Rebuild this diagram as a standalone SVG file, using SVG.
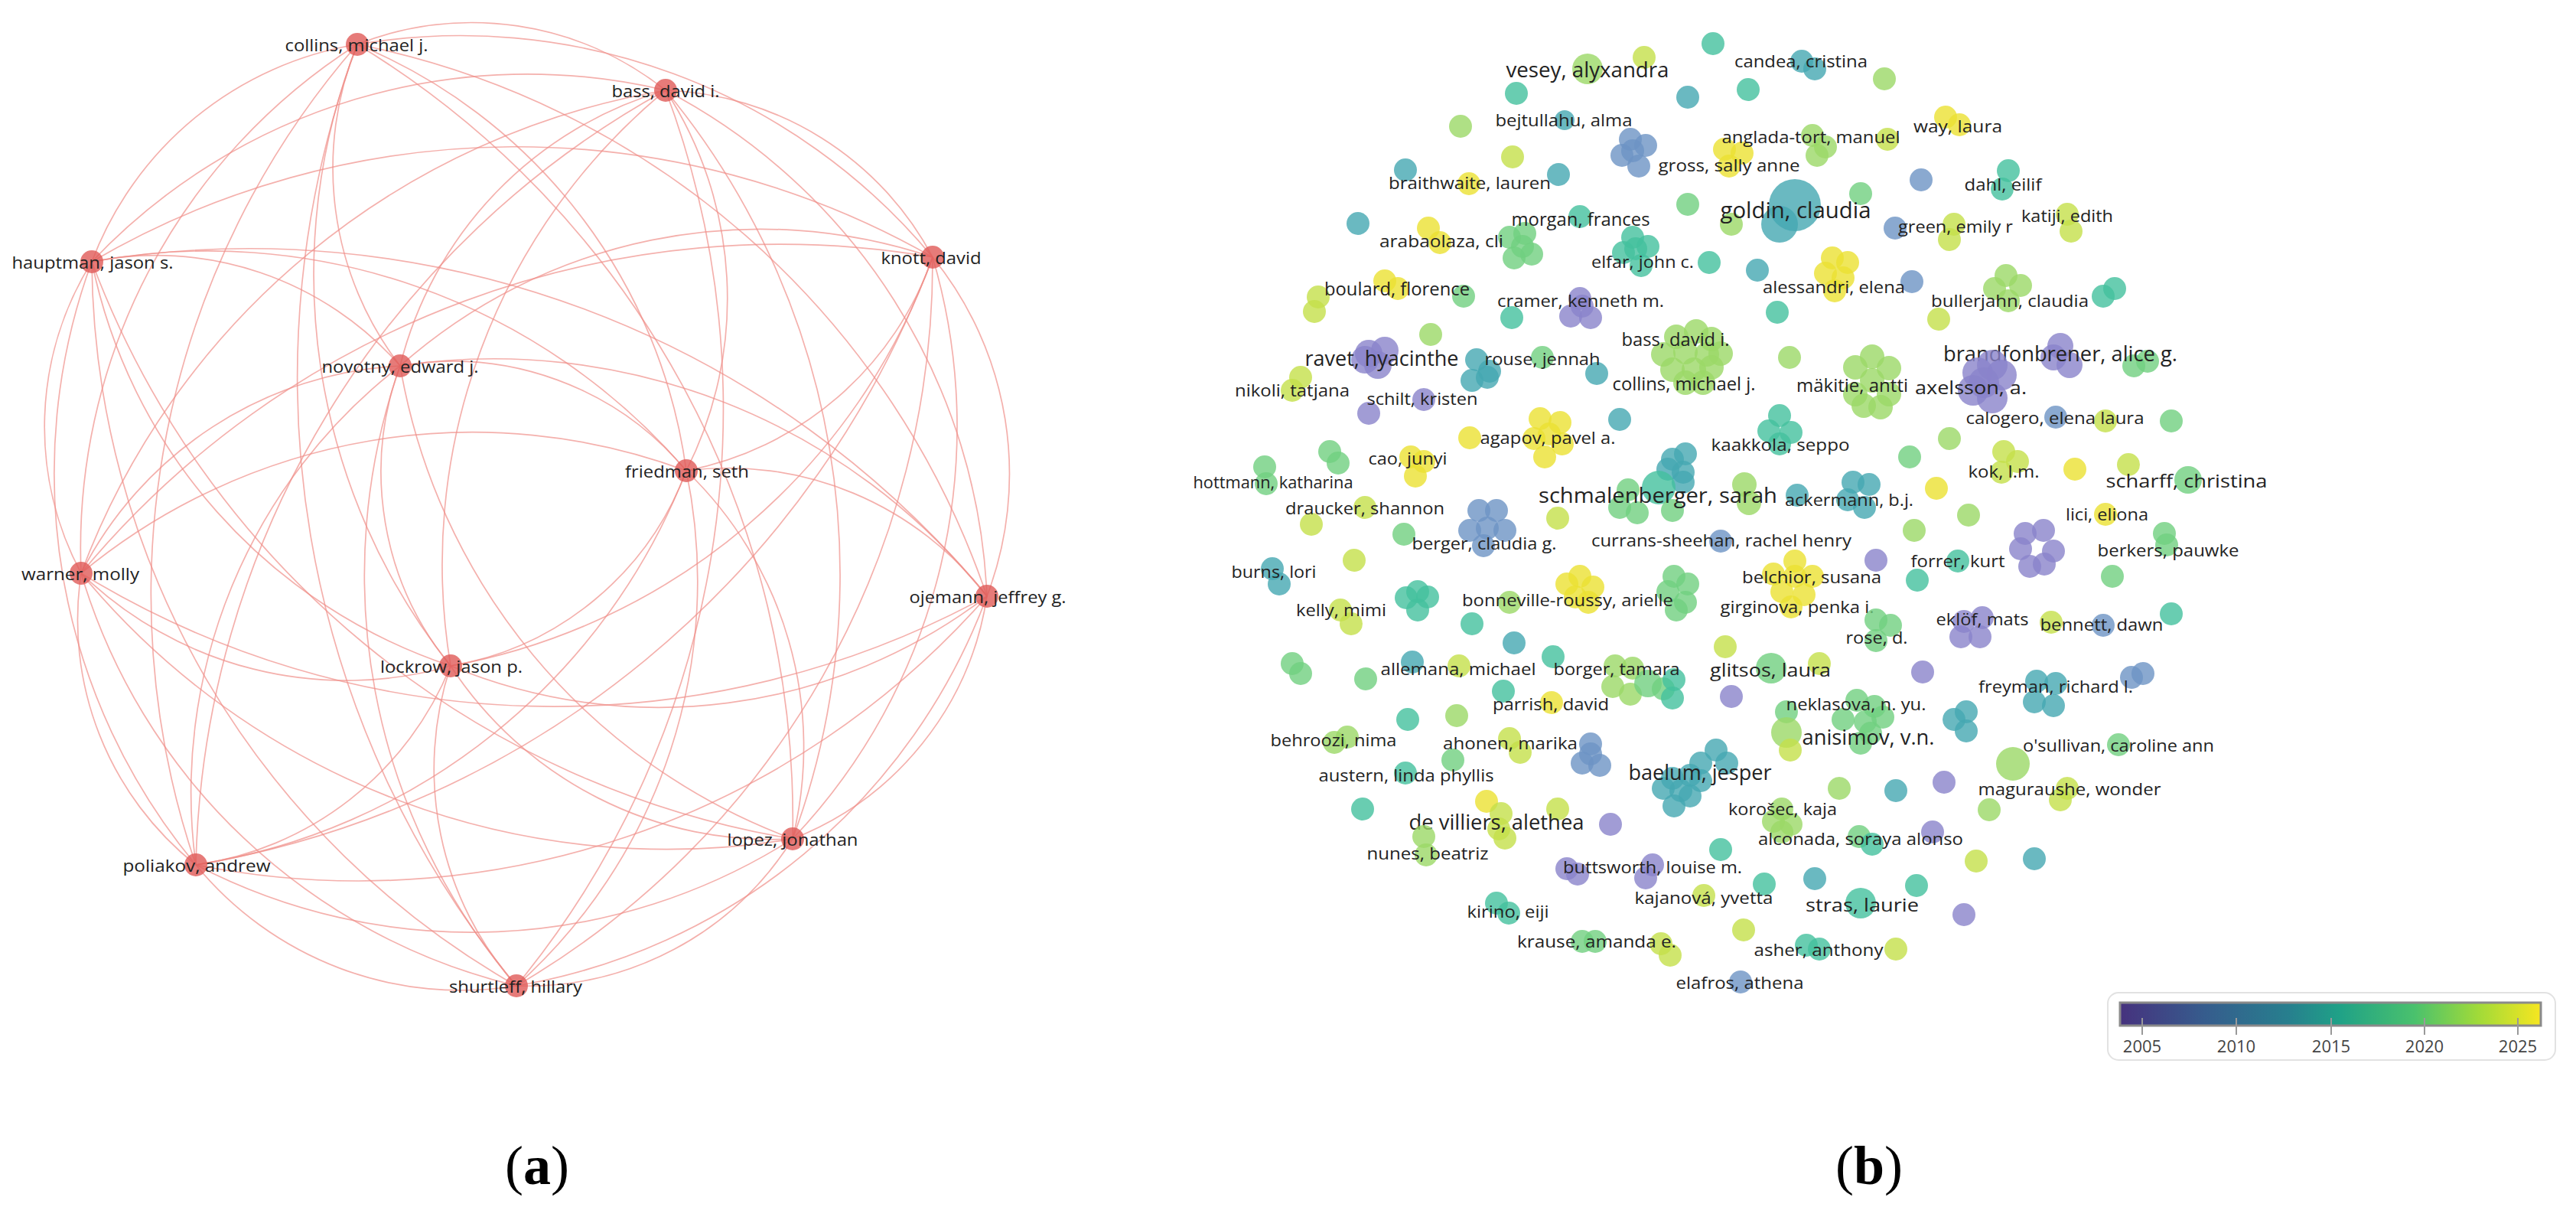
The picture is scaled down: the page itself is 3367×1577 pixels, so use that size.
<svg xmlns="http://www.w3.org/2000/svg" width="3367" height="1577" viewBox="0 0 3367 1577">
<style>
.e{fill:none;stroke:#ef8f89;stroke-opacity:0.7;stroke-width:1.7}
.na{fill:#e05a57}
.la{font-family:"Open Sans","Liberation Sans",sans-serif;font-size:22px;fill:#222;text-anchor:middle;dominant-baseline:central}
.lb{font-family:"Open Sans","Liberation Sans",sans-serif;font-size:21px;fill:#222;text-anchor:middle;dominant-baseline:central}
.m{font-size:24px}.L{font-size:27px}.X{font-size:29px}
circle{fill-opacity:0.8}
.c05{fill:#8a83cb}.c08{fill:#6d93c4}.c11{fill:#45a8b2}.c14{fill:#44c19e}.c17{fill:#70cf80}.c20{fill:#9bd866}.c22{fill:#c4e04a}.c24{fill:#ebe132}
.cap{font-family:"Liberation Serif",serif;font-size:72px;fill:#000;text-anchor:middle}
.leg{font-family:"Open Sans","Liberation Sans",sans-serif;font-size:22px;fill:#444;text-anchor:middle;dominant-baseline:central}
</style>
<defs>
<linearGradient id="viridis" x1="0" y1="0" x2="1" y2="0">
<stop offset="0" stop-color="#46327e"/><stop offset="0.2" stop-color="#365c8d"/><stop offset="0.4" stop-color="#277f8e"/><stop offset="0.52" stop-color="#1fa187"/><stop offset="0.7" stop-color="#4ac16d"/><stop offset="0.85" stop-color="#a0da39"/><stop offset="1" stop-color="#f6e620"/>
</linearGradient>
</defs>
<rect width="3367" height="1577" fill="#fff"/>
<g id="panel-a">
<g id="edges-a">
<path class="e" d="M870 118A411 411 0 0 1 1219 336"/>
<path class="e" d="M870 118A498 498 0 0 1 897 615"/>
<path class="e" d="M870 118A783 783 0 0 1 1290 779"/>
<path class="e" d="M870 118A992 992 0 0 1 1036 1096"/>
<path class="e" d="M870 118A1186 1186 0 0 1 675 1288"/>
<path class="e" d="M870 118A803 803 0 0 0 589 870"/>
<path class="e" d="M870 118A1184 1184 0 0 0 256 1130"/>
<path class="e" d="M870 118A991 991 0 0 0 106 749"/>
<path class="e" d="M870 118A783 783 0 0 0 120 342"/>
<path class="e" d="M870 118A500 500 0 0 0 523 478"/>
<path class="e" d="M870 118A407 407 0 0 0 467 58"/>
<path class="e" d="M1219 336A426 426 0 0 1 897 615"/>
<path class="e" d="M1219 336A449 449 0 0 1 1290 779"/>
<path class="e" d="M1219 336A782 782 0 0 1 1036 1096"/>
<path class="e" d="M1219 336A1096 1096 0 0 1 675 1288"/>
<path class="e" d="M1219 336A826 826 0 0 1 589 870"/>
<path class="e" d="M1219 336A1248 1248 0 0 1 256 1130"/>
<path class="e" d="M1219 336A1187 1187 0 0 0 106 749"/>
<path class="e" d="M1219 336A1099 1099 0 0 0 120 342"/>
<path class="e" d="M1219 336A710 710 0 0 0 523 478"/>
<path class="e" d="M1219 336A802 802 0 0 0 467 58"/>
<path class="e" d="M897 615A426 426 0 0 1 1290 779"/>
<path class="e" d="M897 615A501 501 0 0 1 1036 1096"/>
<path class="e" d="M897 615A709 709 0 0 1 675 1288"/>
<path class="e" d="M897 615A400 400 0 0 1 589 870"/>
<path class="e" d="M897 615A822 822 0 0 1 256 1130"/>
<path class="e" d="M897 615A802 802 0 0 0 106 749"/>
<path class="e" d="M897 615A824 824 0 0 0 120 342"/>
<path class="e" d="M897 615A398 398 0 0 0 523 478"/>
<path class="e" d="M897 615A704 704 0 0 0 467 58"/>
<path class="e" d="M1290 779A406 406 0 0 1 1036 1096"/>
<path class="e" d="M1290 779A798 798 0 0 1 675 1288"/>
<path class="e" d="M1290 779A707 707 0 0 1 589 870"/>
<path class="e" d="M1290 779A1092 1092 0 0 1 256 1130"/>
<path class="e" d="M1290 779A1184 1184 0 0 1 106 749"/>
<path class="e" d="M1290 779A1249 1249 0 0 0 120 342"/>
<path class="e" d="M1290 779A824 824 0 0 0 523 478"/>
<path class="e" d="M1290 779A1094 1094 0 0 0 467 58"/>
<path class="e" d="M1036 1096A409 409 0 0 1 675 1288"/>
<path class="e" d="M1036 1096A501 501 0 0 1 589 870"/>
<path class="e" d="M1036 1096A781 781 0 0 1 256 1130"/>
<path class="e" d="M1036 1096A993 993 0 0 1 106 749"/>
<path class="e" d="M1036 1096A1186 1186 0 0 1 120 342"/>
<path class="e" d="M1036 1096A803 803 0 0 1 523 478"/>
<path class="e" d="M1036 1096A1184 1184 0 0 0 467 58"/>
<path class="e" d="M675 1288A427 427 0 0 1 589 870"/>
<path class="e" d="M675 1288A448 448 0 0 1 256 1130"/>
<path class="e" d="M675 1288A784 784 0 0 1 106 749"/>
<path class="e" d="M675 1288A1097 1097 0 0 1 120 342"/>
<path class="e" d="M675 1288A824 824 0 0 1 523 478"/>
<path class="e" d="M675 1288A1247 1247 0 0 1 467 58"/>
<path class="e" d="M589 870A422 422 0 0 1 256 1130"/>
<path class="e" d="M589 870A498 498 0 0 1 106 749"/>
<path class="e" d="M589 870A706 706 0 0 1 120 342"/>
<path class="e" d="M589 870A398 398 0 0 1 523 478"/>
<path class="e" d="M589 870A821 821 0 0 1 467 58"/>
<path class="e" d="M256 1130A409 409 0 0 1 106 749"/>
<path class="e" d="M256 1130A800 800 0 0 1 120 342"/>
<path class="e" d="M256 1130A705 705 0 0 1 523 478"/>
<path class="e" d="M256 1130A1093 1093 0 0 1 467 58"/>
<path class="e" d="M106 749A407 407 0 0 1 120 342"/>
<path class="e" d="M106 749A497 497 0 0 1 523 478"/>
<path class="e" d="M106 749A780 780 0 0 1 467 58"/>
<path class="e" d="M120 342A425 425 0 0 1 523 478"/>
<path class="e" d="M120 342A448 448 0 0 1 467 58"/>
<path class="e" d="M523 478A424 424 0 0 1 467 58"/>
</g>
<g id="a-collins"><circle class="na" cx="467" cy="58" r="15"/><text class="la" x="466" y="58" textLength="187" lengthAdjust="spacingAndGlyphs">collins, michael j.</text></g>
<g id="a-bass"><circle class="na" cx="870" cy="118" r="15"/><text class="la" x="870" y="118" textLength="141" lengthAdjust="spacingAndGlyphs">bass, david i.</text></g>
<g id="a-hauptman"><circle class="na" cx="120" cy="342" r="15"/><text class="la" x="121" y="342" textLength="211" lengthAdjust="spacingAndGlyphs">hauptman, jason s.</text></g>
<g id="a-knott"><circle class="na" cx="1219" cy="336" r="15"/><text class="la" x="1217" y="336" textLength="131" lengthAdjust="spacingAndGlyphs">knott, david</text></g>
<g id="a-novotny"><circle class="na" cx="523" cy="478" r="15"/><text class="la" x="523" y="478" textLength="205" lengthAdjust="spacingAndGlyphs">novotny, edward j.</text></g>
<g id="a-friedman"><circle class="na" cx="897" cy="615" r="15"/><text class="la" x="898" y="615" textLength="162" lengthAdjust="spacingAndGlyphs">friedman, seth</text></g>
<g id="a-warner"><circle class="na" cx="106" cy="749" r="15"/><text class="la" x="105" y="749" textLength="154" lengthAdjust="spacingAndGlyphs">warner, molly</text></g>
<g id="a-ojemann"><circle class="na" cx="1290" cy="779" r="15"/><text class="la" x="1291" y="779" textLength="205" lengthAdjust="spacingAndGlyphs">ojemann, jeffrey g.</text></g>
<g id="a-lockrow"><circle class="na" cx="589" cy="870" r="15"/><text class="la" x="590" y="870" textLength="186" lengthAdjust="spacingAndGlyphs">lockrow, jason p.</text></g>
<g id="a-lopez"><circle class="na" cx="1036" cy="1096" r="15"/><text class="la" x="1036" y="1096" textLength="171" lengthAdjust="spacingAndGlyphs">lopez, jonathan</text></g>
<g id="a-poliakov"><circle class="na" cx="256" cy="1130" r="15"/><text class="la" x="257" y="1130" textLength="193" lengthAdjust="spacingAndGlyphs">poliakov, andrew</text></g>
<g id="a-shurtleff"><circle class="na" cx="675" cy="1288" r="15"/><text class="la" x="674" y="1288" textLength="174" lengthAdjust="spacingAndGlyphs">shurtleff, hillary</text></g>
</g>
<g id="panel-b">
<g id="b-others">
<circle class="c14" cx="2239" cy="57" r="15"/><circle class="c22" cx="2149" cy="75" r="15"/><circle class="c20" cx="2463" cy="103" r="15"/>
<circle class="c14" cx="1982" cy="122" r="15"/><circle class="c11" cx="2206" cy="127" r="15"/><circle class="c14" cx="2285" cy="117" r="15"/>
<circle class="c20" cx="1909" cy="165" r="15"/><circle class="c22" cx="2467" cy="182" r="15"/><circle class="c22" cx="1977" cy="205" r="15"/>
<circle class="c11" cx="1837" cy="222" r="15"/><circle class="c11" cx="2037" cy="228" r="15"/><circle class="c08" cx="2511" cy="235" r="15"/>
<circle class="c17" cx="2432" cy="253" r="15"/><circle class="c17" cx="2206" cy="267" r="15"/><circle class="c20" cx="2263" cy="293" r="15"/>
<circle class="c11" cx="1775" cy="292" r="15"/><circle class="c14" cx="2234" cy="343" r="15"/><circle class="c11" cx="2297" cy="353" r="15"/>
<circle class="c08" cx="2499" cy="368" r="15"/><circle class="c22" cx="2534" cy="417" r="15"/><circle class="c17" cx="1913" cy="387" r="15"/>
<circle class="c14" cx="1976" cy="415" r="15"/><circle class="c14" cx="2323" cy="408" r="15"/><circle class="c20" cx="1870" cy="437" r="15"/>
<circle class="c20" cx="2339" cy="467" r="15"/><circle class="c11" cx="2087" cy="488" r="15"/><circle class="c17" cx="2838" cy="550" r="15"/>
<circle class="c20" cx="2548" cy="573" r="15"/><circle class="c17" cx="2496" cy="597" r="15"/><circle class="c24" cx="2712" cy="613" r="15"/>
<circle class="c24" cx="2531" cy="638" r="15"/><circle class="c20" cx="2573" cy="673" r="15"/><circle class="c20" cx="2502" cy="693" r="15"/>
<circle class="c17" cx="2761" cy="753" r="15"/><circle class="c05" cx="2452" cy="732" r="15"/><circle class="c14" cx="2506" cy="758" r="15"/>
<circle class="c14" cx="2838" cy="802" r="15"/><circle class="c11" cx="2117" cy="548" r="15"/><circle class="c17" cx="1738" cy="590" r="15"/>
<circle class="c17" cx="1749" cy="605" r="15"/><circle class="c11" cx="2349" cy="647" r="15"/><circle class="c22" cx="2036" cy="677" r="15"/>
<circle class="c17" cx="1835" cy="698" r="15"/><circle class="c22" cx="1770" cy="732" r="15"/><circle class="c20" cx="1973" cy="787" r="15"/>
<circle class="c14" cx="1853" cy="773" r="15"/><circle class="c14" cx="1866" cy="780" r="15"/><circle class="c14" cx="1853" cy="797" r="15"/><circle class="c14" cx="1838" cy="781" r="15"/>
<circle class="c14" cx="1924" cy="815" r="15"/><circle class="c11" cx="1979" cy="840" r="15"/><circle class="c14" cx="2030" cy="858" r="15"/>
<circle class="c22" cx="2255" cy="845" r="15"/><circle class="c17" cx="1689" cy="867" r="15"/><circle class="c17" cx="1700" cy="880" r="15"/>
<circle class="c17" cx="1785" cy="887" r="15"/><circle class="c14" cx="1965" cy="903" r="15"/><circle class="c05" cx="2263" cy="910" r="15"/>
<circle class="c14" cx="1840" cy="940" r="15"/><circle class="c20" cx="1904" cy="935" r="15"/><circle class="c17" cx="1899" cy="993" r="15"/>
<circle class="c20" cx="2404" cy="1030" r="15"/><circle class="c11" cx="2478" cy="1033" r="15"/><circle class="c14" cx="1781" cy="1057" r="15"/>
<circle class="c05" cx="2105" cy="1077" r="15"/><circle class="c14" cx="2249" cy="1110" r="15"/><circle class="c14" cx="2306" cy="1155" r="15"/>
<circle class="c11" cx="2372" cy="1148" r="15"/><circle class="c22" cx="2279" cy="1215" r="15"/><circle class="c22" cx="2478" cy="1240" r="15"/>
<circle class="c05" cx="2513" cy="878" r="15"/><circle class="c11" cx="2554" cy="940" r="15"/><circle class="c11" cx="2570" cy="930" r="15"/><circle class="c11" cx="2570" cy="955" r="15"/>
<circle class="c20" cx="2631" cy="998" r="22"/><circle class="c05" cx="2541" cy="1022" r="15"/><circle class="c20" cx="2600" cy="1058" r="15"/>
<circle class="c22" cx="2583" cy="1125" r="15"/><circle class="c11" cx="2659" cy="1122" r="15"/><circle class="c14" cx="2505" cy="1157" r="15"/>
<circle class="c05" cx="2567" cy="1195" r="15"/>
</g>
<g id="b-vesey"><circle class="c20" cx="2075" cy="90" r="20"/><text class="lb L" x="2075" y="90" textLength="213" lengthAdjust="spacingAndGlyphs">vesey, alyxandra</text></g>
<g id="b-candea"><circle class="c11" cx="2355" cy="80" r="15"/><circle class="c11" cx="2372" cy="90" r="15"/><text class="lb" x="2354" y="80" textLength="174" lengthAdjust="spacingAndGlyphs">candea, cristina</text></g>
<g id="b-bejtullahu"><circle class="c11" cx="2045" cy="157" r="13"/><text class="lb" x="2044" y="157" textLength="179" lengthAdjust="spacingAndGlyphs">bejtullahu, alma</text></g>
<g id="b-gross"><circle class="c08" cx="2131" cy="182" r="15"/><circle class="c08" cx="2151" cy="190" r="15"/><circle class="c08" cx="2120" cy="203" r="15"/><circle class="c08" cx="2142" cy="217" r="15"/><circle class="c08" cx="2134" cy="197" r="15"/><circle class="c24" cx="2254" cy="195" r="15"/><circle class="c24" cx="2277" cy="200" r="15"/><circle class="c24" cx="2260" cy="217" r="15"/><text class="lb" x="2260" y="216" textLength="185" lengthAdjust="spacingAndGlyphs">gross, sally anne</text></g>
<g id="b-anglada"><circle class="c20" cx="2369" cy="177" r="15"/><circle class="c20" cx="2386" cy="192" r="15"/><circle class="c20" cx="2375" cy="203" r="15"/><text class="lb" x="2367" y="179" textLength="233" lengthAdjust="spacingAndGlyphs">anglada-tort, manuel</text></g>
<g id="b-way"><circle class="c24" cx="2543" cy="153" r="15"/><circle class="c24" cx="2561" cy="163" r="15"/><text class="lb" x="2559" y="165" textLength="116" lengthAdjust="spacingAndGlyphs">way, laura</text></g>
<g id="b-braithwaite"><circle class="c24" cx="1920" cy="240" r="15"/><text class="lb" x="1921" y="239" textLength="212" lengthAdjust="spacingAndGlyphs">braithwaite, lauren</text></g>
<g id="b-dahl"><circle class="c14" cx="2625" cy="223" r="15"/><circle class="c14" cx="2617" cy="247" r="15"/><text class="lb" x="2618" y="241" textLength="101" lengthAdjust="spacingAndGlyphs">dahl, eilif</text></g>
<g id="b-goldin"><circle class="c11" cx="2346" cy="268" r="34"/><circle class="c11" cx="2326" cy="293" r="24"/><text class="lb X" x="2347" y="273" textLength="197" lengthAdjust="spacingAndGlyphs">goldin, claudia</text></g>
<g id="b-morgan"><circle class="c14" cx="2065" cy="283" r="15"/><circle class="c17" cx="1973" cy="310" r="15"/><circle class="c17" cx="1993" cy="305" r="15"/><circle class="c17" cx="1979" cy="337" r="15"/><circle class="c17" cx="2002" cy="332" r="15"/><circle class="c17" cx="1990" cy="322" r="15"/><text class="lb m" x="2066" y="285" textLength="181" lengthAdjust="spacingAndGlyphs">morgan, frances</text></g>
<g id="b-green"><circle class="c08" cx="2477" cy="298" r="15"/><circle class="c22" cx="2554" cy="293" r="15"/><circle class="c22" cx="2548" cy="313" r="15"/><text class="lb" x="2556" y="296" textLength="150" lengthAdjust="spacingAndGlyphs">green, emily r</text></g>
<g id="b-katiji"><circle class="c22" cx="2702" cy="280" r="15"/><circle class="c22" cx="2707" cy="302" r="15"/><text class="lb" x="2702" y="282" textLength="120" lengthAdjust="spacingAndGlyphs">katiji, edith</text></g>
<g id="b-arabaolaza"><circle class="c24" cx="1867" cy="298" r="15"/><circle class="c24" cx="1882" cy="317" r="15"/><text class="lb" x="1884" y="315" textLength="162" lengthAdjust="spacingAndGlyphs">arabaolaza, cli</text></g>
<g id="b-elfar"><circle class="c14" cx="2134" cy="310" r="15"/><circle class="c14" cx="2154" cy="322" r="15"/><circle class="c14" cx="2122" cy="330" r="15"/><circle class="c14" cx="2145" cy="347" r="15"/><circle class="c14" cx="2138" cy="325" r="15"/><text class="lb" x="2147" y="342" textLength="134" lengthAdjust="spacingAndGlyphs">elfar, john c.</text></g>
<g id="b-alessandri"><circle class="c24" cx="2395" cy="337" r="15"/><circle class="c24" cx="2415" cy="343" r="15"/><circle class="c24" cx="2386" cy="357" r="15"/><circle class="c24" cx="2409" cy="363" r="15"/><circle class="c24" cx="2398" cy="380" r="15"/><text class="lb" x="2397" y="375" textLength="186" lengthAdjust="spacingAndGlyphs">alessandri, elena</text></g>
<g id="b-boulard"><circle class="c22" cx="1723" cy="388" r="15"/><circle class="c22" cx="1718" cy="407" r="15"/><circle class="c24" cx="1810" cy="367" r="15"/><circle class="c24" cx="1827" cy="377" r="15"/><text class="lb m" x="1826" y="376" textLength="190" lengthAdjust="spacingAndGlyphs">boulard, florence</text></g>
<g id="b-cramer"><circle class="c05" cx="2065" cy="390" r="15"/><circle class="c05" cx="2053" cy="413" r="15"/><circle class="c05" cx="2079" cy="415" r="15"/><circle class="c05" cx="2068" cy="400" r="15"/><text class="lb" x="2066" y="393" textLength="218" lengthAdjust="spacingAndGlyphs">cramer, kenneth m.</text></g>
<g id="b-bullerjahn"><circle class="c20" cx="2622" cy="360" r="15"/><circle class="c20" cx="2641" cy="373" r="15"/><circle class="c20" cx="2607" cy="377" r="15"/><circle class="c20" cx="2625" cy="393" r="15"/><circle class="c14" cx="2764" cy="377" r="15"/><circle class="c14" cx="2749" cy="387" r="15"/><text class="lb" x="2627" y="393" textLength="206" lengthAdjust="spacingAndGlyphs">bullerjahn, claudia</text></g>
<g id="b-bass"><circle class="c20" cx="2191" cy="440" r="16"/><circle class="c20" cx="2217" cy="433" r="16"/><circle class="c20" cx="2237" cy="443" r="16"/><circle class="c20" cx="2174" cy="463" r="16"/><circle class="c20" cx="2203" cy="460" r="16"/><circle class="c20" cx="2231" cy="463" r="16"/><circle class="c20" cx="2249" cy="462" r="16"/><text class="lb m" x="2190" y="442" textLength="141" lengthAdjust="spacingAndGlyphs">bass, david i.</text></g>
<g id="b-collins"><circle class="c20" cx="2186" cy="483" r="16"/><circle class="c20" cx="2214" cy="483" r="16"/><circle class="c20" cx="2237" cy="480" r="16"/><circle class="c20" cx="2203" cy="500" r="16"/><circle class="c20" cx="2226" cy="500" r="16"/><text class="lb m" x="2201" y="500" textLength="187" lengthAdjust="spacingAndGlyphs">collins, michael j.</text></g>
<g id="b-brandfonbrener"><circle class="c05" cx="2693" cy="452" r="17"/><circle class="c05" cx="2705" cy="477" r="17"/><circle class="c05" cx="2684" cy="467" r="17"/><circle class="c17" cx="2789" cy="478" r="15"/><circle class="c17" cx="2807" cy="472" r="15"/><text class="lb L" x="2693" y="461" textLength="306" lengthAdjust="spacingAndGlyphs">brandfonbrener, alice g.</text></g>
<g id="b-ravet"><circle class="c05" cx="1789" cy="462" r="18"/><circle class="c05" cx="1810" cy="458" r="18"/><circle class="c05" cx="1801" cy="477" r="18"/><circle class="c05" cx="1784" cy="470" r="18"/><text class="lb L" x="1806" y="467" textLength="201" lengthAdjust="spacingAndGlyphs">ravet, hyacinthe</text></g>
<g id="b-rouse"><circle class="c11" cx="1930" cy="470" r="15"/><circle class="c11" cx="1947" cy="485" r="15"/><circle class="c11" cx="1924" cy="497" r="15"/><circle class="c11" cx="1944" cy="493" r="15"/><circle class="c17" cx="2016" cy="467" r="15"/><text class="lb" x="2016" y="469" textLength="151" lengthAdjust="spacingAndGlyphs">rouse, jennah</text></g>
<g id="b-makitie"><circle class="c20" cx="2447" cy="466" r="16"/><circle class="c20" cx="2425" cy="480" r="16"/><circle class="c20" cx="2469" cy="481" r="16"/><circle class="c20" cx="2447" cy="497" r="16"/><circle class="c20" cx="2425" cy="515" r="16"/><circle class="c20" cx="2469" cy="515" r="16"/><circle class="c20" cx="2436" cy="530" r="16"/><circle class="c20" cx="2458" cy="532" r="16"/><text class="lb m" x="2421" y="502" textLength="146" lengthAdjust="spacingAndGlyphs">mäkitie, antti</text></g>
<g id="b-axelsson"><circle class="c05" cx="2604" cy="477" r="20"/><circle class="c05" cx="2585" cy="487" r="20"/><circle class="c05" cx="2616" cy="490" r="20"/><circle class="c05" cx="2579" cy="510" r="20"/><circle class="c05" cx="2604" cy="520" r="20"/><circle class="c05" cx="2593" cy="500" r="20"/><text class="lb m" x="2576" y="505" textLength="146" lengthAdjust="spacingAndGlyphs">axelsson, a.</text></g>
<g id="b-nikoli"><circle class="c22" cx="1700" cy="493" r="15"/><circle class="c22" cx="1689" cy="510" r="15"/><text class="lb" x="1689" y="510" textLength="150" lengthAdjust="spacingAndGlyphs">nikoli, tatjana</text></g>
<g id="b-schilt"><circle class="c05" cx="1861" cy="522" r="15"/><circle class="c05" cx="1789" cy="540" r="15"/><text class="lb" x="1859" y="521" textLength="145" lengthAdjust="spacingAndGlyphs">schilt, kristen</text></g>
<g id="b-calogero"><circle class="c08" cx="2687" cy="545" r="15"/><circle class="c22" cx="2752" cy="550" r="15"/><text class="lb" x="2686" y="546" textLength="233" lengthAdjust="spacingAndGlyphs">calogero, elena laura</text></g>
<g id="b-agapov"><circle class="c24" cx="1921" cy="572" r="15"/><circle class="c24" cx="2013" cy="547" r="15"/><circle class="c24" cx="2039" cy="552" r="15"/><circle class="c24" cx="2025" cy="567" r="15"/><circle class="c24" cx="2005" cy="573" r="15"/><circle class="c24" cx="2042" cy="580" r="15"/><circle class="c24" cx="2019" cy="597" r="15"/><text class="lb" x="2023" y="572" textLength="177" lengthAdjust="spacingAndGlyphs">agapov, pavel a.</text></g>
<g id="b-kaakkola"><circle class="c14" cx="2326" cy="543" r="15"/><circle class="c14" cx="2312" cy="563" r="15"/><circle class="c14" cx="2341" cy="565" r="15"/><circle class="c14" cx="2326" cy="580" r="15"/><text class="lb" x="2327" y="581" textLength="181" lengthAdjust="spacingAndGlyphs">kaakkola, seppo</text></g>
<g id="b-cao"><circle class="c24" cx="1844" cy="597" r="15"/><circle class="c24" cx="1861" cy="603" r="15"/><circle class="c24" cx="1850" cy="622" r="15"/><text class="lb" x="1840" y="599" textLength="103" lengthAdjust="spacingAndGlyphs">cao, junyi</text></g>
<g id="b-kok"><circle class="c22" cx="2619" cy="590" r="15"/><circle class="c22" cx="2637" cy="603" r="15"/><circle class="c22" cx="2616" cy="617" r="15"/><text class="lb" x="2619" y="616" textLength="93" lengthAdjust="spacingAndGlyphs">kok, l.m.</text></g>
<g id="b-hottmann"><circle class="c17" cx="1653" cy="610" r="15"/><circle class="c17" cx="1655" cy="632" r="15"/><text class="lb" x="1664" y="630" textLength="209" lengthAdjust="spacingAndGlyphs">hottmann, katharina</text></g>
<g id="b-scharff"><circle class="c22" cx="2782" cy="607" r="15"/><circle class="c17" cx="2860" cy="627" r="18"/><text class="lb m" x="2858" y="627" textLength="211" lengthAdjust="spacingAndGlyphs">scharff, christina</text></g>
<g id="b-schmalenberger"><circle class="c11" cx="2186" cy="600" r="15"/><circle class="c11" cx="2203" cy="593" r="15"/><circle class="c11" cx="2180" cy="613" r="15"/><circle class="c11" cx="2200" cy="617" r="15"/><circle class="c11" cx="2200" cy="630" r="15"/><circle class="c14" cx="2168" cy="637" r="22"/><circle class="c17" cx="2128" cy="640" r="15"/><circle class="c17" cx="2117" cy="663" r="15"/><circle class="c17" cx="2140" cy="670" r="15"/><circle class="c17" cx="2186" cy="667" r="15"/><circle class="c20" cx="2280" cy="633" r="16"/><circle class="c20" cx="2286" cy="657" r="16"/><text class="lb L" x="2167" y="646" textLength="312" lengthAdjust="spacingAndGlyphs">schmalenberger, sarah</text></g>
<g id="b-ackermann"><circle class="c11" cx="2422" cy="630" r="15"/><circle class="c11" cx="2443" cy="633" r="15"/><circle class="c11" cx="2415" cy="653" r="15"/><circle class="c11" cx="2437" cy="663" r="15"/><text class="lb" x="2417" y="653" textLength="168" lengthAdjust="spacingAndGlyphs">ackermann, b.j.</text></g>
<g id="b-draucker"><circle class="c22" cx="1784" cy="663" r="15"/><circle class="c22" cx="1714" cy="685" r="15"/><text class="lb" x="1784" y="664" textLength="208" lengthAdjust="spacingAndGlyphs">draucker, shannon</text></g>
<g id="b-lici"><circle class="c24" cx="2752" cy="672" r="15"/><text class="lb" x="2754" y="672" textLength="108" lengthAdjust="spacingAndGlyphs">lici, eliona</text></g>
<g id="b-berger"><circle class="c08" cx="1933" cy="667" r="15"/><circle class="c08" cx="1956" cy="667" r="15"/><circle class="c08" cx="1921" cy="693" r="15"/><circle class="c08" cx="1944" cy="690" r="15"/><circle class="c08" cx="1967" cy="693" r="15"/><circle class="c08" cx="1939" cy="713" r="15"/><text class="lb" x="1940" y="710" textLength="189" lengthAdjust="spacingAndGlyphs">berger, claudia g.</text></g>
<g id="b-currans"><circle class="c08" cx="2249" cy="707" r="15"/><text class="lb" x="2250" y="706" textLength="340" lengthAdjust="spacingAndGlyphs">currans-sheehan, rachel henry</text></g>
<g id="b-burns"><circle class="c11" cx="1663" cy="743" r="15"/><circle class="c11" cx="1672" cy="763" r="15"/><text class="lb" x="1665" y="747" textLength="111" lengthAdjust="spacingAndGlyphs">burns, lori</text></g>
<g id="b-forrer"><circle class="c05" cx="2647" cy="697" r="15"/><circle class="c05" cx="2671" cy="693" r="15"/><circle class="c05" cx="2641" cy="717" r="15"/><circle class="c05" cx="2684" cy="720" r="15"/><circle class="c05" cx="2653" cy="740" r="15"/><circle class="c05" cx="2672" cy="737" r="15"/><circle class="c14" cx="2559" cy="733" r="15"/><text class="lb" x="2559" y="733" textLength="123" lengthAdjust="spacingAndGlyphs">forrer, kurt</text></g>
<g id="b-berkers"><circle class="c17" cx="2829" cy="697" r="15"/><circle class="c17" cx="2832" cy="712" r="15"/><text class="lb" x="2834" y="719" textLength="185" lengthAdjust="spacingAndGlyphs">berkers, pauwke</text></g>
<g id="b-belchior"><circle class="c24" cx="2346" cy="733" r="15"/><circle class="c24" cx="2318" cy="750" r="15"/><circle class="c24" cx="2346" cy="753" r="15"/><circle class="c24" cx="2369" cy="753" r="15"/><circle class="c24" cx="2329" cy="773" r="15"/><circle class="c24" cx="2358" cy="777" r="15"/><circle class="c24" cx="2341" cy="793" r="15"/><text class="lb" x="2368" y="754" textLength="182" lengthAdjust="spacingAndGlyphs">belchior, susana</text></g>
<g id="b-bonneville"><circle class="c24" cx="2065" cy="753" r="15"/><circle class="c24" cx="2048" cy="763" r="15"/><circle class="c24" cx="2082" cy="767" r="15"/><circle class="c24" cx="2059" cy="780" r="15"/><circle class="c24" cx="2076" cy="787" r="15"/><circle class="c17" cx="2188" cy="753" r="15"/><circle class="c17" cx="2206" cy="763" r="15"/><circle class="c17" cx="2180" cy="773" r="15"/><circle class="c17" cx="2203" cy="787" r="15"/><circle class="c17" cx="2191" cy="797" r="15"/><text class="lb" x="2049" y="784" textLength="276" lengthAdjust="spacingAndGlyphs">bonneville-roussy, arielle</text></g>
<g id="b-kelly"><circle class="c22" cx="1752" cy="797" r="15"/><circle class="c22" cx="1766" cy="815" r="15"/><text class="lb" x="1753" y="797" textLength="118" lengthAdjust="spacingAndGlyphs">kelly, mimi</text></g>
<g id="b-girginova"><text class="lb" x="2349" y="793" textLength="201" lengthAdjust="spacingAndGlyphs">girginova, penka i.</text></g>
<g id="b-eklof"><circle class="c05" cx="2567" cy="812" r="15"/><circle class="c05" cx="2591" cy="807" r="15"/><circle class="c05" cx="2563" cy="832" r="15"/><circle class="c05" cx="2588" cy="832" r="15"/><text class="lb" x="2591" y="809" textLength="121" lengthAdjust="spacingAndGlyphs">eklöf, mats</text></g>
<g id="b-bennett"><circle class="c22" cx="2681" cy="813" r="15"/><circle class="c08" cx="2749" cy="817" r="15"/><text class="lb" x="2747" y="816" textLength="161" lengthAdjust="spacingAndGlyphs">bennett, dawn</text></g>
<g id="b-rose"><circle class="c17" cx="2452" cy="810" r="15"/><circle class="c17" cx="2471" cy="817" r="15"/><circle class="c17" cx="2452" cy="837" r="15"/><text class="lb" x="2453" y="833" textLength="81" lengthAdjust="spacingAndGlyphs">rose, d.</text></g>
<g id="b-allemana"><circle class="c11" cx="1846" cy="865" r="15"/><circle class="c22" cx="1907" cy="870" r="15"/><text class="lb" x="1906" y="874" textLength="203" lengthAdjust="spacingAndGlyphs">allemana, michael</text></g>
<g id="b-borger"><circle class="c20" cx="2111" cy="870" r="15"/><circle class="c20" cx="2134" cy="873" r="15"/><circle class="c20" cx="2108" cy="897" r="15"/><circle class="c20" cx="2131" cy="907" r="15"/><circle class="c17" cx="2154" cy="893" r="18"/><circle class="c17" cx="2174" cy="900" r="15"/><circle class="c14" cx="2188" cy="888" r="15"/><circle class="c14" cx="2186" cy="912" r="15"/><text class="lb" x="2113" y="874" textLength="165" lengthAdjust="spacingAndGlyphs">borger, tamara</text></g>
<g id="b-glitsos"><circle class="c17" cx="2315" cy="873" r="20"/><circle class="c22" cx="2378" cy="867" r="15"/><text class="lb m" x="2314" y="874" textLength="158" lengthAdjust="spacingAndGlyphs">glitsos, laura</text></g>
<g id="b-freyman"><circle class="c11" cx="2662" cy="890" r="15"/><circle class="c11" cx="2687" cy="893" r="15"/><circle class="c11" cx="2659" cy="917" r="15"/><circle class="c11" cx="2684" cy="922" r="15"/><circle class="c08" cx="2786" cy="885" r="15"/><circle class="c08" cx="2801" cy="880" r="15"/><text class="lb" x="2687" y="897" textLength="202" lengthAdjust="spacingAndGlyphs">freyman, richard l.</text></g>
<g id="b-parrish"><circle class="c24" cx="2028" cy="918" r="15"/><text class="lb" x="2027" y="920" textLength="152" lengthAdjust="spacingAndGlyphs">parrish, david</text></g>
<g id="b-neklasova"><circle class="c17" cx="2335" cy="930" r="15"/><circle class="c17" cx="2427" cy="915" r="15"/><circle class="c17" cx="2450" cy="923" r="15"/><circle class="c17" cx="2409" cy="940" r="15"/><circle class="c17" cx="2438" cy="943" r="15"/><circle class="c17" cx="2461" cy="937" r="15"/><circle class="c17" cx="2445" cy="958" r="15"/><text class="lb" x="2426" y="920" textLength="183" lengthAdjust="spacingAndGlyphs">neklasova, n. yu.</text></g>
<g id="b-anisimov"><circle class="c20" cx="2335" cy="957" r="20"/><circle class="c22" cx="2340" cy="980" r="15"/><circle class="c17" cx="2432" cy="971" r="15"/><text class="lb L" x="2442" y="962" textLength="173" lengthAdjust="spacingAndGlyphs">anisimov, v.n.</text></g>
<g id="b-behroozi"><circle class="c20" cx="1744" cy="970" r="15"/><circle class="c20" cx="1761" cy="963" r="15"/><text class="lb" x="1743" y="967" textLength="165" lengthAdjust="spacingAndGlyphs">behroozi, nima</text></g>
<g id="b-ahonen"><circle class="c22" cx="1973" cy="965" r="15"/><circle class="c22" cx="1987" cy="983" r="15"/><circle class="c08" cx="2079" cy="972" r="15"/><circle class="c08" cx="2068" cy="997" r="15"/><circle class="c08" cx="2091" cy="1000" r="15"/><circle class="c08" cx="2079" cy="985" r="15"/><text class="lb" x="1974" y="971" textLength="176" lengthAdjust="spacingAndGlyphs">ahonen, marika</text></g>
<g id="b-osullivan"><circle class="c17" cx="2769" cy="973" r="15"/><text class="lb" x="2769" y="974" textLength="250" lengthAdjust="spacingAndGlyphs">o'sullivan, caroline ann</text></g>
<g id="b-austern"><circle class="c14" cx="1837" cy="1010" r="15"/><text class="lb" x="1838" y="1013" textLength="229" lengthAdjust="spacingAndGlyphs">austern, linda phyllis</text></g>
<g id="b-baelum"><circle class="c11" cx="2243" cy="980" r="15"/><circle class="c11" cx="2223" cy="997" r="15"/><circle class="c11" cx="2257" cy="997" r="15"/><circle class="c11" cx="2186" cy="1017" r="15"/><circle class="c11" cx="2209" cy="1013" r="15"/><circle class="c11" cx="2223" cy="1020" r="15"/><circle class="c11" cx="2174" cy="1030" r="15"/><circle class="c11" cx="2197" cy="1033" r="15"/><circle class="c11" cx="2209" cy="1040" r="15"/><circle class="c11" cx="2188" cy="1053" r="15"/><text class="lb L" x="2222" y="1008" textLength="187" lengthAdjust="spacingAndGlyphs">baelum, jesper</text></g>
<g id="b-maguraushe"><circle class="c22" cx="2702" cy="1030" r="15"/><circle class="c22" cx="2693" cy="1045" r="15"/><text class="lb" x="2705" y="1031" textLength="239" lengthAdjust="spacingAndGlyphs">maguraushe, wonder</text></g>
<g id="b-korosec"><circle class="c20" cx="2329" cy="1057" r="15"/><circle class="c20" cx="2318" cy="1073" r="15"/><circle class="c20" cx="2341" cy="1077" r="15"/><circle class="c20" cx="2329" cy="1087" r="15"/><text class="lb" x="2330" y="1057" textLength="142" lengthAdjust="spacingAndGlyphs">korošec, kaja</text></g>
<g id="b-devilliers"><circle class="c24" cx="1943" cy="1047" r="15"/><circle class="c22" cx="1962" cy="1063" r="15"/><circle class="c22" cx="1959" cy="1083" r="15"/><circle class="c22" cx="1967" cy="1095" r="15"/><circle class="c22" cx="2036" cy="1057" r="15"/><text class="lb L" x="1956" y="1073" textLength="229" lengthAdjust="spacingAndGlyphs">de villiers, alethea</text></g>
<g id="b-alconada"><circle class="c17" cx="2430" cy="1093" r="15"/><circle class="c14" cx="2447" cy="1103" r="15"/><circle class="c05" cx="2526" cy="1087" r="15"/><text class="lb" x="2432" y="1096" textLength="268" lengthAdjust="spacingAndGlyphs">alconada, soraya alonso</text></g>
<g id="b-nunes"><circle class="c20" cx="1861" cy="1093" r="15"/><circle class="c20" cx="1864" cy="1117" r="15"/><text class="lb" x="1866" y="1115" textLength="159" lengthAdjust="spacingAndGlyphs">nunes, beatriz</text></g>
<g id="b-buttsworth"><circle class="c05" cx="2048" cy="1135" r="15"/><circle class="c05" cx="2062" cy="1142" r="15"/><circle class="c05" cx="2160" cy="1130" r="15"/><circle class="c05" cx="2151" cy="1147" r="15"/><text class="lb" x="2160" y="1133" textLength="234" lengthAdjust="spacingAndGlyphs">buttsworth, louise m.</text></g>
<g id="b-kajanova"><circle class="c22" cx="2227" cy="1170" r="15"/><text class="lb" x="2227" y="1173" textLength="181" lengthAdjust="spacingAndGlyphs">kajanová, yvetta</text></g>
<g id="b-stras"><circle class="c14" cx="2432" cy="1180" r="20"/><text class="lb m" x="2434" y="1181" textLength="148" lengthAdjust="spacingAndGlyphs">stras, laurie</text></g>
<g id="b-kirino"><circle class="c14" cx="1956" cy="1180" r="15"/><circle class="c14" cx="1972" cy="1193" r="15"/><text class="lb" x="1971" y="1191" textLength="107" lengthAdjust="spacingAndGlyphs">kirino, eiji</text></g>
<g id="b-krause"><circle class="c17" cx="2068" cy="1230" r="15"/><circle class="c17" cx="2085" cy="1230" r="15"/><circle class="c22" cx="2171" cy="1233" r="15"/><circle class="c22" cx="2183" cy="1248" r="15"/><text class="lb" x="2087" y="1230" textLength="208" lengthAdjust="spacingAndGlyphs">krause, amanda e.</text></g>
<g id="b-asher"><circle class="c14" cx="2361" cy="1235" r="15"/><circle class="c14" cx="2378" cy="1240" r="15"/><text class="lb" x="2377" y="1241" textLength="169" lengthAdjust="spacingAndGlyphs">asher, anthony</text></g>
<g id="b-elafros"><circle class="c08" cx="2275" cy="1283" r="15"/><text class="lb" x="2274" y="1284" textLength="167" lengthAdjust="spacingAndGlyphs">elafros, athena</text></g>
</g>
<g id="legend">
<rect x="2755" y="1297" width="585" height="88" rx="14" fill="#fff" stroke="#e2e2e2" stroke-width="2"/>
<rect x="2771" y="1310" width="550" height="30" fill="url(#viridis)" stroke="#8a8a8a" stroke-width="3"/>
<g stroke="#999" stroke-width="2">
<line x1="2800" y1="1330" x2="2800" y2="1352"/><line x1="2923" y1="1330" x2="2923" y2="1352"/><line x1="3047" y1="1330" x2="3047" y2="1352"/><line x1="3169" y1="1330" x2="3169" y2="1352"/><line x1="3291" y1="1330" x2="3291" y2="1352"/>
</g>
<text class="leg" x="2800" y="1366">2005</text><text class="leg" x="2923" y="1366">2010</text><text class="leg" x="3047" y="1366">2015</text><text class="leg" x="3169" y="1366">2020</text><text class="leg" x="3291" y="1366">2025</text>
</g>
<g id="captions">
<text class="cap" x="702" y="1547">(<tspan font-weight="bold">a</tspan>)</text>
<text class="cap" x="2443" y="1547">(<tspan font-weight="bold">b</tspan>)</text>
</g>
</svg>
